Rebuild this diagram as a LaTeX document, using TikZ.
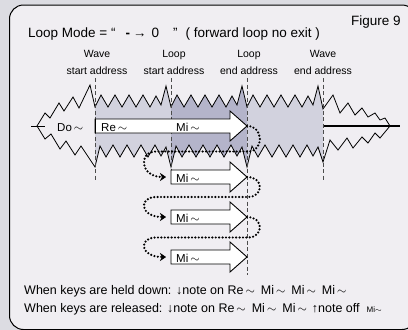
\documentclass[tikz,border=0pt]{standalone}
\usepackage{fontspec}
\setmainfont{Liberation Sans}
\usetikzlibrary{arrows.meta}
\definecolor{outerbg}{RGB}{220,220,226}
\definecolor{innerbg}{RGB}{240,238,242}
\definecolor{shadeA}{RGB}{210,210,222}
\definecolor{shadeB}{RGB}{180,180,202}
\def\upperpts{(37,126) -- (45,113) -- (50,118) -- (59,103) -- (64,111) -- (73,97) -- (79,108) -- (90,85) --
 (95,107) -- (101,95) -- (108,107) -- (115,95) -- (122,107) -- (129,95) -- (136,107) -- (143,95) -- (150,107) -- (156,96) -- (161,105) -- (166,86) --
 (171,107) -- (177,95) -- (184,107) -- (191,95) -- (198,107) -- (205,95) -- (212,107) -- (219,95) -- (226,107) -- (232,96) -- (237,105) -- (242,86) --
 (247,107) -- (253,95) -- (260,107) -- (267,95) -- (274,107) -- (281,95) -- (288,107) -- (295,95) -- (302,107) -- (308,96) -- (313,105) -- (318,86) --
 (323,109) -- (333,95) -- (340,113) -- (348,103) -- (355,115) -- (362,108) -- (368,117) -- (375,113) -- (380,120) -- (385,118) -- (390,126)}
\def\lowerpts{(37,126) -- (45,139) -- (51,134) -- (60,149) -- (66,141) -- (75,155) -- (81,146) --
 (95,167) -- (100,146) -- (106,157) -- (113,145) -- (120,157) -- (127,145) -- (134,157) -- (141,145) -- (148,157) -- (155,145) -- (161,156) -- (166,147) --
 (171,167) -- (176,146) -- (182,157) -- (189,145) -- (196,157) -- (203,145) -- (210,157) -- (217,145) -- (224,157) -- (231,145) -- (237,156) -- (242,147) --
 (247,167) -- (252,146) -- (258,157) -- (265,145) -- (272,157) -- (279,145) -- (286,157) -- (293,145) -- (300,157) -- (307,145) -- (313,156) -- (318,147) --
 (323,162) -- (330,140) -- (338,150) -- (347,138) -- (353,148) -- (362,137) -- (368,143) -- (375,133) -- (380,138) -- (390,126)}
\newcommand\tl{\hspace{2pt}$\sim$}
\begin{document}
\begin{tikzpicture}[x=1pt,y=-1pt,
  wave/.style={line width=0.8pt, line join=miter},
  guide/.style={dash pattern=on 4pt off 2.5pt, line width=0.8pt, draw=black!70},
  arrowbox/.style={draw, fill=white, line width=0.9pt, line join=miter},
  dots/.style={line width=2.4pt, dash pattern=on 0pt off 3.4pt, line cap=round,
    -{Stealth[length=6pt,width=8pt,inset=2pt,line width=0.4pt]}},
  lbl/.style={font=\fontsize{10.5}{17}\selectfont, anchor=base, inner sep=0pt},
  txt/.style={font=\fontsize{11.5}{14}\selectfont, anchor=base west, inner sep=0pt},
  big/.style={font=\fontsize{13.5}{15}\selectfont, anchor=base west, inner sep=0pt},
  foot/.style={font=\fontsize{12.5}{14}\selectfont, anchor=base west, inner sep=0pt}]

\useasboundingbox (0,0) rectangle (408,330);
\fill[outerbg] (0,0) rectangle (408,330);
\draw[fill=innerbg, line width=1pt, rounded corners=14pt] (9.5,5) rectangle (416,329.5);

% shaded regions
\begin{scope}
  \clip (95,0) rectangle (171,330);
  \clip \upperpts -- (390,330) -- (37,330) -- cycle;
  \fill[shadeA] \lowerpts -- (390,0) -- (37,0) -- cycle;
\end{scope}
\begin{scope}
  \clip (171,0) rectangle (247,330);
  \clip \upperpts -- (390,330) -- (37,330) -- cycle;
  \fill[shadeB] \lowerpts -- (390,0) -- (37,0) -- cycle;
\end{scope}
\begin{scope}
  \clip (247,0) rectangle (323,330);
  \clip \upperpts -- (390,330) -- (37,330) -- cycle;
  \fill[shadeA] \lowerpts -- (390,0) -- (37,0) -- cycle;
\end{scope}

% waveform
\draw[wave] \upperpts;
\draw[wave] \lowerpts;
\draw[line width=1pt] (31,126) -- (45,126);
\draw[line width=1.1pt] (323,126) -- (400,126);

% guides
\draw[guide] (95,78) -- (95,180);
\draw[guide] (171,78) -- (171,180);
\draw[guide] (247,78) -- (247,275);
\draw[guide] (323,78) -- (323,180);

% titles
\node[big] (title) at (28,37) {Loop Mode = “\hspace{10pt}\textbf{-}\hspace{3pt}→\hspace{5pt}0\hspace{14pt}”\hspace{8pt}( forward loop no exit )};
\node[big] (fig) at (351,25) {Figure 9};
\node[lbl] (ws1) at (97,57) {Wave};
\node[lbl] (ws2) at (97,74) {start address};
\node[lbl] (ls1) at (174,57) {Loop};
\node[lbl] (ls2) at (174,74) {start address};
\node[lbl] (le1) at (249,57) {Loop};
\node[lbl] (le2) at (249,74) {end address};
\node[lbl] (we1) at (323,57) {Wave};
\node[lbl] (we2) at (323,74) {end address};

% block arrows
\draw[arrowbox] (95,119) -- (230,119) -- (230,111) -- (247,126) -- (230,141) -- (230,133) -- (95,133) -- cycle;
\foreach \yc in {177,217,257}{
  \draw[arrowbox] (171,\yc-7) -- (230,\yc-7) -- (230,\yc-15) -- (247,\yc) -- (230,\yc+15) -- (230,\yc+7) -- (171,\yc+7) -- cycle;
}
\draw[line width=1.8pt] (95.5,119) -- (95.5,133);

\node[txt] (do) at (57,131) {Do\tl};
\node[txt] (re) at (101,131) {Re\tl};
\node[txt] (mi1) at (176,131) {Mi\tl};
\node[txt] (mi2) at (176,182) {Mi\tl};
\node[txt] (mi3) at (176,222) {Mi\tl};
\node[txt] (mi4) at (176,262) {Mi\tl};

% named ends
\coordinate (t1) at (247,126);
\coordinate (t2) at (247,177);
\coordinate (t3) at (247,217);
\coordinate (s2) at (166,177);
\coordinate (s3) at (166,217);
\coordinate (s4) at (166,257);

\draw[dots] (t1) .. controls (264,126) and (264,151.5) .. (248,151.5) -- (156,151.5) .. controls (138,151.5) and (140,177) .. (s2);
\draw[dots] (t2) .. controls (264,177) and (264,197) .. (248,197) -- (156,197) .. controls (138,197) and (140,217) .. (s3);
\draw[dots] (t3) .. controls (264,217) and (264,237.5) .. (248,237.5) -- (156,237.5) .. controls (138,237.5) and (140,257) .. (s4);

% footer
\node[foot] (l1) at (24,294) {When keys are held down: \textbf{↓}note on Re\tl\hspace{6pt}Mi\tl\hspace{6pt}Mi\tl\hspace{6pt}Mi\tl};
\node[foot] (l2) at (24,312) {When keys are released: \textbf{↓}note on Re\tl\hspace{6pt}Mi\tl\hspace{6pt}Mi\tl\hspace{5pt}\textbf{↑}note off\hspace{7pt}{\fontsize{8}{9}\selectfont Mi$\sim$}};
\end{tikzpicture}
\end{document}
